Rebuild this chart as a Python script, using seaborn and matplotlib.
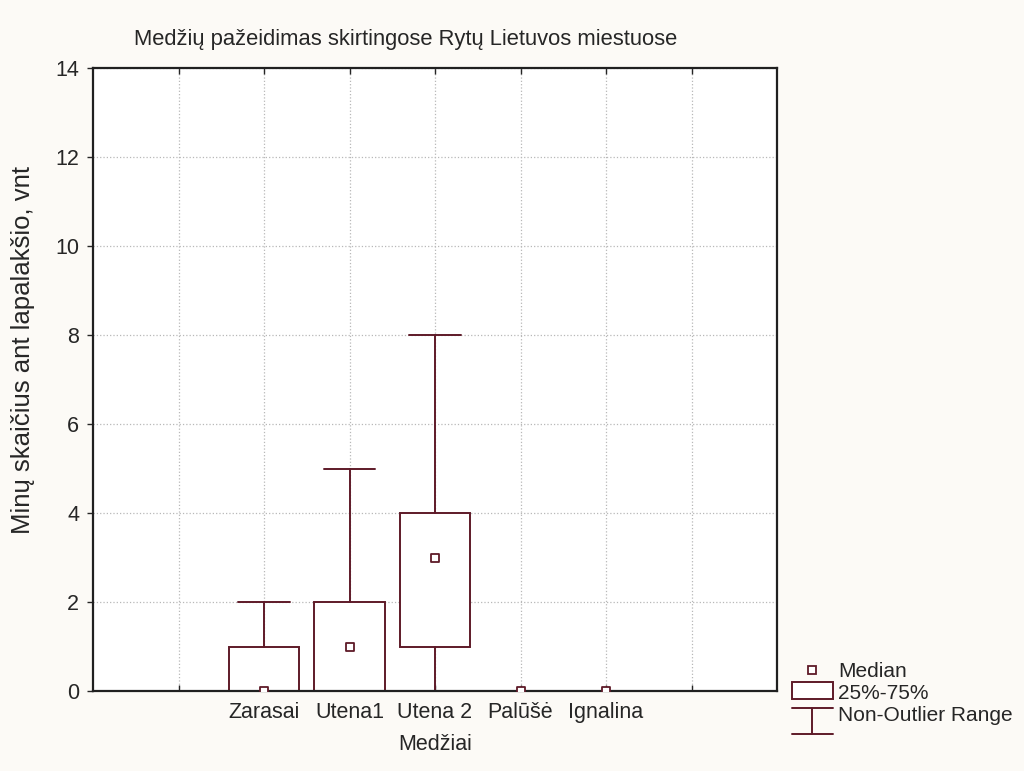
import matplotlib
matplotlib.use("Agg")
import matplotlib.pyplot as plt
from matplotlib.patches import Rectangle
from matplotlib.lines import Line2D
from matplotlib.legend_handler import HandlerBase
import seaborn as sns
import pandas as pd

# Summary statistics per city
categories = ["Zarasai", "Utena1", "Utena 2", "Palūšė", "Ignalina"]
medians = [0, 1, 3, 0, 0]
q1 = [0, 0, 1, 0, 0]
q3 = [1, 2, 4, 0, 0]
whisker_low = [0, 0, 0, 0, 0]
whisker_high = [2, 5, 8, 0, 0]

y_ticks = [0, 2, 4, 6, 8, 10, 12, 14]

sns.set_style("white")
plt.rcParams["font.family"] = ["Liberation Sans", "DejaVu Sans"]

LINE = "#5e1a28"
BG = "#fcfaf6"

fig = plt.figure(figsize=(10.24, 7.71), dpi=100, facecolor=BG)
ax = fig.add_axes([93 / 1024, 80 / 771, 684 / 1024, 623 / 771])
ax.set_facecolor("white")

positions = list(range(2, 2 + len(categories)))
stats = [
    dict(med=m, q1=a, q3=b, whislo=lo, whishi=hi, fliers=[], label=c)
    for c, m, a, b, lo, hi in zip(categories, medians, q1, q3, whisker_low, whisker_high)
]
ax.bxp(
    stats,
    positions=positions,
    widths=0.82,
    capwidths=0.6,
    showfliers=False,
    patch_artist=True,
    boxprops=dict(facecolor="white", edgecolor=LINE, linewidth=1.4),
    whiskerprops=dict(color=LINE, linewidth=1.4),
    capprops=dict(color=LINE, linewidth=1.4),
    medianprops=dict(linestyle="none"),
    manage_ticks=False,
    zorder=2,
)

med_df = pd.DataFrame({"pos": positions, "median": medians})
sns.scatterplot(
    data=med_df, x="pos", y="median", ax=ax, marker="s", s=40,
    facecolor="white", edgecolor=LINE, linewidth=1.3, zorder=4, legend=False,
)

ax.set_xlim(0, 8)
ax.set_ylim(0, 14)
ax.set_xticks(range(1, 8))
ax.set_xticklabels([""] + categories + [""], fontsize=15.5)
ax.set_yticks(y_ticks)
ax.set_yticklabels([str(t) for t in y_ticks], fontsize=15.5)
ax.tick_params(axis="x", direction="in", length=4, top=True, bottom=True, pad=8, width=1)
ax.tick_params(axis="y", direction="out", length=4, left=True, pad=6, width=1)
ax.grid(True, color="#b8b8b8", linestyle=":", linewidth=0.9, zorder=0)
ax.set_axisbelow(True)
for s in ax.spines.values():
    s.set_color("#202020")
    s.set_linewidth(1.6)

ax.set_xlabel("Medžiai", fontsize=15.5, labelpad=8)
ax.set_ylabel("Minų skaičius ant lapalakšio, vnt", fontsize=18.5, labelpad=12)
ax.yaxis.set_label_coords(-0.085, 0.547)

fig.text(406 / 1024, 1 - 40 / 771, "Medžių pažeidimas skirtingose Rytų Lietuvos miestuose",
         ha="center", va="center", fontsize=15.8)


class RangeHandler(HandlerBase):
    def create_artists(self, legend, orig_handle, xd, yd, w, h, fontsize, trans):
        cx = xd + w / 2
        top, bot = yd + h - 1, yd - 9
        return [
            Line2D([cx, cx], [bot, top], color=LINE, lw=1.4, transform=trans),
            Line2D([xd, xd + w], [top, top], color=LINE, lw=1.4, transform=trans),
            Line2D([xd, xd + w], [bot, bot], color=LINE, lw=1.4, transform=trans),
        ]


class BoxHandler(HandlerBase):
    def create_artists(self, legend, orig_handle, xd, yd, w, h, fontsize, trans):
        return [Rectangle((xd, yd), w, h + 2, facecolor="white", edgecolor=LINE,
                          lw=1.4, transform=trans)]


med_handle = Line2D([], [], marker="s", linestyle="none", markersize=6,
                    markerfacecolor="white", markeredgecolor=LINE, markeredgewidth=1.3)
box_handle = Rectangle((0, 0), 1, 1)
range_handle = Line2D([], [])
fig.legend(
    [med_handle, box_handle, range_handle],
    ["Median", "25%-75%", "Non-Outlier Range"],
    handler_map={Rectangle: BoxHandler(), range_handle: RangeHandler()},
    loc="lower left", bbox_to_anchor=(777 / 1024, 1 - 740 / 771),
    frameon=False, fontsize=15, handlelength=2.0, handletextpad=0.25,
    labelspacing=0.15, borderpad=0.2,
)

fig.savefig("out.png", dpi=100, facecolor=BG)
